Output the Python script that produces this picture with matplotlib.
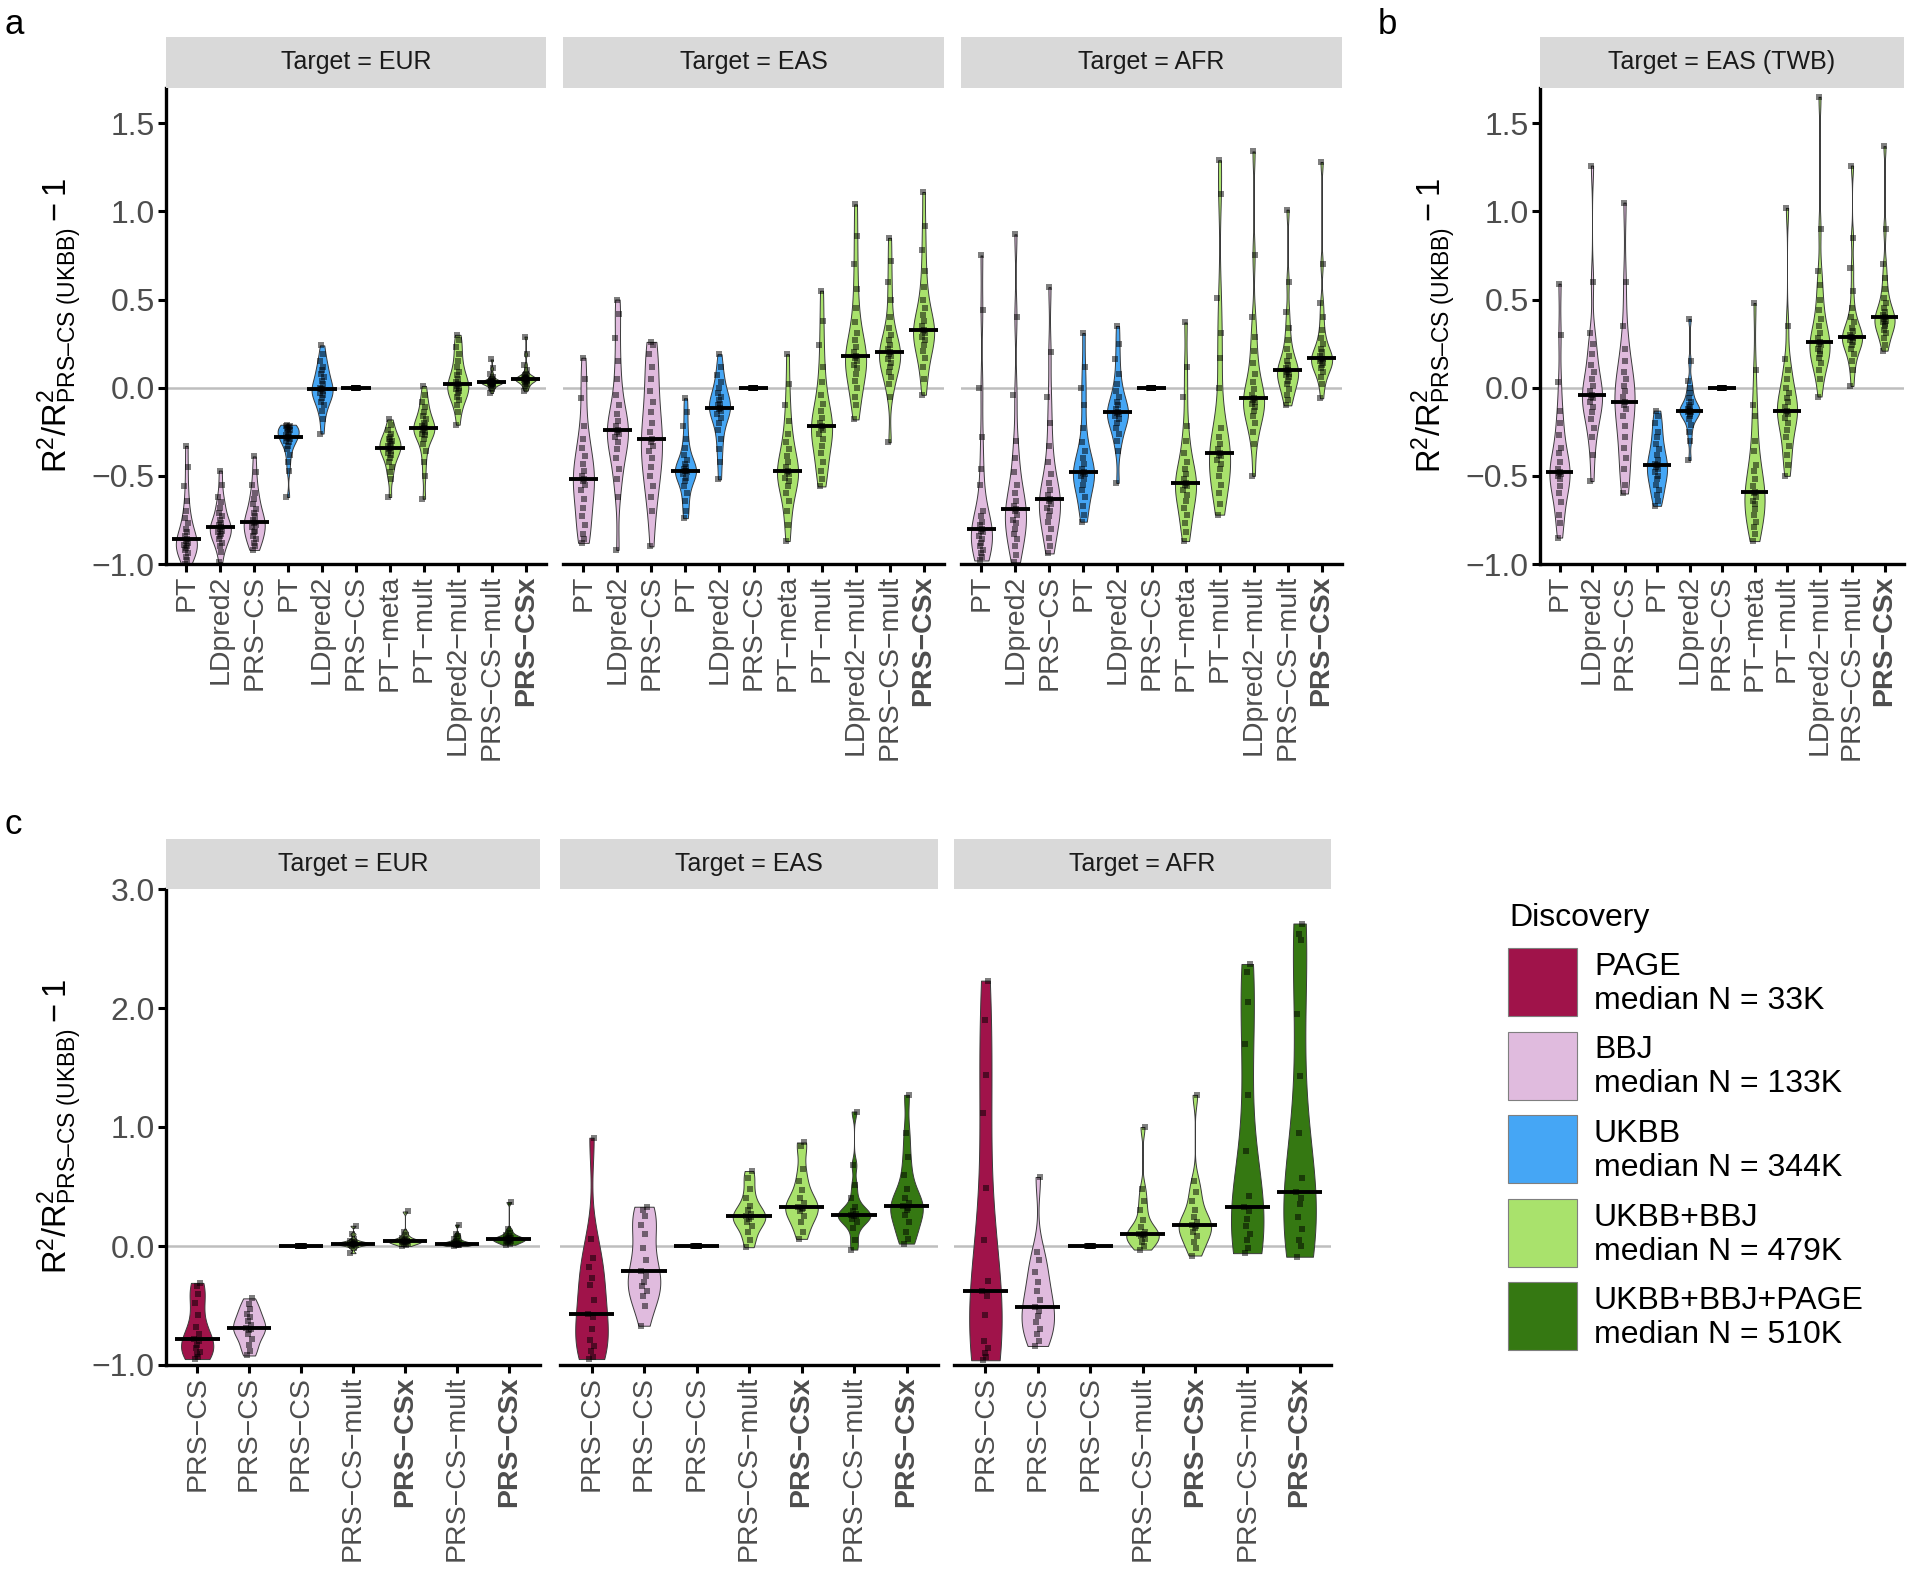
import numpy as np
import matplotlib
matplotlib.use("Agg")
import matplotlib.pyplot as plt
from matplotlib.patches import Rectangle
from matplotlib.ticker import FuncFormatter

plt.rcParams["font.family"] = ["Liberation Sans", "DejaVu Sans"]
plt.rcParams["mathtext.fontset"] = "custom"
plt.rcParams["mathtext.rm"] = "Liberation Sans"
plt.rcParams["mathtext.it"] = "Liberation Sans:italic"
plt.rcParams["mathtext.bf"] = "Liberation Sans:bold"

# ---- data (one list per violin) ----
methods_ab = ["PT", "LDpred2", "PRS\u2212CS", "PT", "LDpred2", "PRS\u2212CS",
              "PT\u2212meta", "PT\u2212mult", "LDpred2\u2212mult", "PRS\u2212CS\u2212mult", "PRS\u2212CSx"]
discovery_ab = ["BBJ", "BBJ", "BBJ", "UKBB", "UKBB", "UKBB",
                "UKBB+BBJ", "UKBB+BBJ", "UKBB+BBJ", "UKBB+BBJ", "UKBB+BBJ"]

methods_c = ["PRS\u2212CS", "PRS\u2212CS", "PRS\u2212CS", "PRS\u2212CS\u2212mult", "PRS\u2212CSx",
             "PRS\u2212CS\u2212mult", "PRS\u2212CSx"]
discovery_c = ["PAGE", "BBJ", "UKBB", "UKBB+BBJ", "UKBB+BBJ", "UKBB+BBJ+PAGE", "UKBB+BBJ+PAGE"]

ref_zero_21 = [0.0, 0.0, 0.0, 0.0, 0.0, 0.0, 0.0, 0.0, 0.0, 0.0, 0.0,
               0.0, 0.0, 0.0, 0.0, 0.0, 0.0, 0.0, 0.0, 0.0, 0.0]
ref_zero_15 = [0.0, 0.0, 0.0, 0.0, 0.0, 0.0, 0.0, 0.0, 0.0, 0.0, 0.0, 0.0, 0.0, 0.0, 0.0]

a_eur = [
    [-1.00, -0.98, -0.96, -0.94, -0.92, -0.91, -0.90, -0.89, -0.88, -0.87, -0.86, -0.84, -0.82, -0.80, -0.77, -0.74, -0.70, -0.64, -0.56, -0.45, -0.33],
    [-0.99, -0.93, -0.90, -0.88, -0.86, -0.84, -0.83, -0.82, -0.81, -0.80, -0.79, -0.78, -0.77, -0.75, -0.73, -0.71, -0.68, -0.65, -0.62, -0.55, -0.47],
    [-0.92, -0.90, -0.88, -0.86, -0.84, -0.82, -0.81, -0.79, -0.78, -0.77, -0.76, -0.75, -0.73, -0.71, -0.69, -0.66, -0.63, -0.60, -0.55, -0.48, -0.39],
    [-0.62, -0.47, -0.42, -0.38, -0.35, -0.33, -0.31, -0.30, -0.29, -0.285, -0.28, -0.27, -0.26, -0.25, -0.24, -0.235, -0.23, -0.225, -0.22, -0.215, -0.21],
    [-0.26, -0.18, -0.13, -0.10, -0.08, -0.06, -0.04, -0.03, -0.02, -0.01, -0.01, 0.00, 0.02, 0.04, 0.06, 0.08, 0.10, 0.12, 0.15, 0.19, 0.24],
    ref_zero_21,
    [-0.62, -0.52, -0.48, -0.45, -0.42, -0.40, -0.38, -0.37, -0.36, -0.35, -0.34, -0.33, -0.32, -0.31, -0.30, -0.29, -0.28, -0.26, -0.24, -0.21, -0.18],
    [-0.63, -0.50, -0.42, -0.36, -0.32, -0.29, -0.27, -0.26, -0.25, -0.24, -0.23, -0.22, -0.21, -0.20, -0.18, -0.16, -0.14, -0.11, -0.08, -0.04, 0.01],
    [-0.21, -0.14, -0.10, -0.07, -0.05, -0.03, -0.02, -0.01, 0.00, 0.01, 0.02, 0.03, 0.05, 0.07, 0.09, 0.12, 0.15, 0.19, 0.23, 0.27, 0.30],
    [-0.03, -0.01, 0.00, 0.01, 0.015, 0.02, 0.022, 0.025, 0.027, 0.029, 0.03, 0.032, 0.035, 0.038, 0.04, 0.045, 0.05, 0.06, 0.08, 0.11, 0.16],
    [-0.02, 0.00, 0.01, 0.02, 0.03, 0.035, 0.04, 0.042, 0.045, 0.048, 0.05, 0.053, 0.056, 0.06, 0.065, 0.07, 0.08, 0.10, 0.13, 0.19, 0.29],
]

a_eas = [
    [-0.88, -0.86, -0.83, -0.78, -0.73, -0.68, -0.63, -0.58, -0.55, -0.53, -0.52, -0.50, -0.47, -0.43, -0.39, -0.34, -0.29, -0.22, -0.06, 0.05, 0.17],
    [-0.92, -0.62, -0.52, -0.46, -0.40, -0.35, -0.31, -0.28, -0.26, -0.25, -0.24, -0.22, -0.19, -0.15, -0.10, -0.04, 0.05, 0.15, 0.28, 0.42, 0.50],
    [-0.90, -0.70, -0.62, -0.56, -0.50, -0.45, -0.40, -0.36, -0.33, -0.31, -0.29, -0.25, -0.20, -0.14, -0.08, -0.02, 0.05, 0.12, 0.19, 0.24, 0.26],
    [-0.74, -0.70, -0.64, -0.60, -0.56, -0.53, -0.51, -0.49, -0.48, -0.475, -0.47, -0.46, -0.45, -0.43, -0.41, -0.38, -0.34, -0.29, -0.22, -0.14, -0.06],
    [-0.52, -0.42, -0.35, -0.29, -0.24, -0.20, -0.17, -0.15, -0.13, -0.12, -0.115, -0.10, -0.09, -0.07, -0.05, -0.03, 0.00, 0.03, 0.07, 0.12, 0.19],
    ref_zero_21,
    [-0.87, -0.78, -0.70, -0.64, -0.60, -0.56, -0.53, -0.51, -0.49, -0.48, -0.47, -0.45, -0.42, -0.39, -0.35, -0.31, -0.26, -0.19, -0.10, 0.02, 0.19],
    [-0.56, -0.52, -0.47, -0.42, -0.37, -0.33, -0.29, -0.26, -0.24, -0.23, -0.22, -0.20, -0.17, -0.13, -0.09, -0.04, 0.03, 0.12, 0.24, 0.38, 0.55],
    [-0.18, -0.10, -0.05, 0.00, 0.04, 0.08, 0.11, 0.13, 0.15, 0.17, 0.18, 0.20, 0.23, 0.27, 0.31, 0.37, 0.45, 0.56, 0.70, 0.86, 1.04],
    [-0.31, -0.05, 0.02, 0.06, 0.09, 0.12, 0.14, 0.16, 0.18, 0.19, 0.20, 0.22, 0.24, 0.27, 0.30, 0.34, 0.40, 0.50, 0.60, 0.72, 0.85],
    [-0.04, 0.05, 0.12, 0.17, 0.21, 0.24, 0.27, 0.29, 0.31, 0.32, 0.33, 0.35, 0.38, 0.41, 0.45, 0.50, 0.57, 0.66, 0.78, 0.92, 1.11],
]

a_afr = [
    [-0.98, -0.96, -0.94, -0.92, -0.90, -0.88, -0.86, -0.84, -0.82, -0.81, -0.80, -0.78, -0.76, -0.73, -0.70, -0.55, -0.46, -0.28, 0.00, 0.44, 0.75],
    [-0.99, -0.95, -0.90, -0.86, -0.83, -0.80, -0.77, -0.75, -0.72, -0.70, -0.69, -0.67, -0.64, -0.60, -0.55, -0.48, -0.40, -0.30, -0.04, 0.40, 0.87],
    [-0.94, -0.90, -0.85, -0.80, -0.76, -0.73, -0.70, -0.68, -0.66, -0.64, -0.63, -0.61, -0.58, -0.54, -0.49, -0.42, -0.33, -0.20, -0.05, 0.20, 0.57],
    [-0.76, -0.72, -0.67, -0.62, -0.58, -0.55, -0.52, -0.50, -0.49, -0.485, -0.48, -0.46, -0.43, -0.40, -0.36, -0.31, -0.23, -0.10, 0.00, 0.12, 0.31],
    [-0.54, -0.36, -0.30, -0.26, -0.23, -0.20, -0.18, -0.16, -0.15, -0.145, -0.14, -0.12, -0.10, -0.08, -0.05, -0.02, 0.02, 0.08, 0.16, 0.25, 0.35],
    ref_zero_21,
    [-0.87, -0.82, -0.77, -0.72, -0.68, -0.64, -0.61, -0.58, -0.56, -0.55, -0.54, -0.52, -0.49, -0.46, -0.42, -0.37, -0.30, -0.22, -0.05, 0.12, 0.37],
    [-0.72, -0.66, -0.60, -0.55, -0.50, -0.46, -0.43, -0.41, -0.39, -0.38, -0.37, -0.35, -0.32, -0.28, -0.23, 0.00, 0.17, 0.31, 0.51, 1.10, 1.29],
    [-0.50, -0.32, -0.25, -0.20, -0.16, -0.13, -0.11, -0.09, -0.08, -0.07, -0.06, -0.04, -0.01, 0.03, 0.08, 0.14, 0.21, 0.29, 0.40, 0.75, 1.34],
    [-0.10, -0.07, -0.04, -0.01, 0.02, 0.04, 0.06, 0.07, 0.08, 0.09, 0.10, 0.11, 0.13, 0.15, 0.18, 0.22, 0.27, 0.34, 0.43, 0.60, 1.01],
    [-0.06, 0.02, 0.06, 0.09, 0.11, 0.13, 0.14, 0.15, 0.16, 0.165, 0.17, 0.18, 0.20, 0.22, 0.25, 0.28, 0.33, 0.40, 0.48, 0.70, 1.28],
]

b_twb = [
    [-0.85, -0.77, -0.72, -0.65, -0.60, -0.56, -0.52, -0.50, -0.49, -0.485, -0.48, -0.46, -0.42, -0.37, -0.34, -0.27, -0.20, -0.13, 0.03, 0.30, 0.59],
    [-0.53, -0.38, -0.28, -0.23, -0.18, -0.14, -0.11, -0.08, -0.06, -0.05, -0.04, -0.02, 0.01, 0.05, 0.09, 0.13, 0.19, 0.25, 0.31, 0.60, 1.26],
    [-0.60, -0.55, -0.46, -0.40, -0.34, -0.28, -0.22, -0.16, -0.12, -0.10, -0.08, -0.05, -0.02, 0.01, 0.05, 0.09, 0.15, 0.22, 0.35, 0.60, 1.05],
    [-0.67, -0.64, -0.61, -0.58, -0.55, -0.52, -0.50, -0.48, -0.46, -0.45, -0.44, -0.43, -0.41, -0.38, -0.35, -0.32, -0.28, -0.25, -0.20, -0.16, -0.13],
    [-0.41, -0.30, -0.25, -0.21, -0.18, -0.16, -0.15, -0.14, -0.135, -0.13, -0.13, -0.12, -0.11, -0.10, -0.08, -0.06, -0.03, 0.00, 0.04, 0.15, 0.39],
    ref_zero_21,
    [-0.87, -0.83, -0.79, -0.76, -0.72, -0.69, -0.66, -0.64, -0.62, -0.60, -0.59, -0.56, -0.52, -0.47, -0.44, -0.36, -0.30, -0.16, -0.10, 0.10, 0.48],
    [-0.50, -0.44, -0.38, -0.33, -0.28, -0.24, -0.20, -0.17, -0.15, -0.14, -0.13, -0.11, -0.08, -0.06, -0.03, 0.00, 0.05, 0.10, 0.16, 0.35, 1.02],
    [-0.05, 0.05, 0.10, 0.14, 0.17, 0.19, 0.21, 0.22, 0.24, 0.25, 0.26, 0.28, 0.31, 0.35, 0.39, 0.44, 0.50, 0.58, 0.66, 0.90, 1.65],
    [0.01, 0.10, 0.15, 0.19, 0.22, 0.24, 0.26, 0.27, 0.28, 0.285, 0.29, 0.30, 0.32, 0.34, 0.37, 0.40, 0.45, 0.55, 0.68, 0.85, 1.26],
    [0.21, 0.24, 0.28, 0.31, 0.33, 0.35, 0.36, 0.37, 0.38, 0.39, 0.40, 0.41, 0.43, 0.45, 0.48, 0.51, 0.56, 0.62, 0.70, 0.90, 1.37],
]

c_eur = [
    [-0.95, -0.93, -0.91, -0.89, -0.86, -0.83, -0.80, -0.78, -0.74, -0.68, -0.58, -0.48, -0.40, -0.34, -0.31],
    [-0.92, -0.88, -0.83, -0.78, -0.74, -0.71, -0.70, -0.69, -0.66, -0.63, -0.60, -0.57, -0.53, -0.49, -0.44],
    ref_zero_15,
    [-0.06, -0.02, 0.00, 0.01, 0.01, 0.015, 0.02, 0.02, 0.025, 0.03, 0.035, 0.04, 0.06, 0.10, 0.17],
    [0.00, 0.01, 0.02, 0.025, 0.03, 0.035, 0.04, 0.04, 0.045, 0.05, 0.06, 0.07, 0.09, 0.12, 0.29],
    [0.00, 0.005, 0.01, 0.01, 0.015, 0.02, 0.02, 0.02, 0.025, 0.03, 0.04, 0.06, 0.08, 0.10, 0.18],
    [0.01, 0.02, 0.03, 0.04, 0.045, 0.05, 0.055, 0.06, 0.065, 0.07, 0.08, 0.09, 0.11, 0.14, 0.37],
]

c_eas = [
    [-0.95, -0.93, -0.88, -0.84, -0.79, -0.70, -0.60, -0.57, -0.45, -0.33, -0.27, -0.18, -0.10, 0.06, 0.91],
    [-0.67, -0.50, -0.42, -0.38, -0.34, -0.30, -0.25, -0.21, -0.12, -0.02, 0.10, 0.18, 0.25, 0.30, 0.33],
    ref_zero_15,
    [-0.01, 0.05, 0.12, 0.17, 0.20, 0.23, 0.24, 0.25, 0.27, 0.30, 0.34, 0.40, 0.48, 0.57, 0.63],
    [0.06, 0.12, 0.20, 0.25, 0.29, 0.31, 0.32, 0.33, 0.36, 0.40, 0.47, 0.55, 0.65, 0.84, 0.87],
    [-0.03, 0.05, 0.15, 0.20, 0.23, 0.25, 0.255, 0.26, 0.27, 0.29, 0.33, 0.40, 0.51, 0.68, 1.13],
    [0.02, 0.06, 0.12, 0.20, 0.26, 0.30, 0.32, 0.34, 0.36, 0.40, 0.48, 0.60, 0.75, 0.95, 1.27],
]

c_afr = [
    [-0.96, -0.93, -0.90, -0.86, -0.80, -0.58, -0.42, -0.38, -0.29, 0.05, 0.49, 1.12, 1.44, 1.90, 2.23],
    [-0.84, -0.80, -0.74, -0.70, -0.64, -0.59, -0.55, -0.51, -0.45, -0.38, -0.30, -0.22, -0.12, -0.05, 0.58],
    ref_zero_15,
    [-0.03, 0.00, 0.03, 0.06, 0.08, 0.09, 0.10, 0.10, 0.12, 0.16, 0.22, 0.30, 0.38, 0.48, 1.00],
    [-0.08, -0.02, 0.03, 0.08, 0.12, 0.15, 0.17, 0.18, 0.20, 0.24, 0.30, 0.38, 0.45, 0.55, 1.27],
    [-0.06, -0.02, 0.05, 0.10, 0.17, 0.23, 0.29, 0.33, 0.42, 0.80, 1.27, 1.70, 2.05, 2.30, 2.37],
    [-0.09, 0.00, 0.05, 0.14, 0.24, 0.35, 0.40, 0.45, 0.57, 0.95, 1.43, 1.95, 2.57, 2.62, 2.71],
]

legend_groups = ["PAGE", "BBJ", "UKBB", "UKBB+BBJ", "UKBB+BBJ+PAGE"]
legend_median_n = ["33K", "133K", "344K", "479K", "510K"]

# ---- styling ----
COLORS = {"PAGE": "#A0134A", "BBJ": "#E0BBDE", "UKBB": "#45A6F5",
          "UKBB+BBJ": "#A9E26C", "UKBB+BBJ+PAGE": "#357812"}
TEXT_GREY = "#4D4D4D"
VIOLIN_W = 0.62
MEDIAN_W = 0.86
JITTER = np.array([-0.05, 0.02, -0.01, 0.05, -0.03, 0.0, 0.03, -0.06, 0.04, -0.02, 0.01])
YLABEL = "$\\mathregular{R^2/R^2_{PRS\u2013CS\\ (UKBB)}-1}$"

W, H = 1920, 1571
fig = plt.figure(figsize=(W / 100, H / 100), dpi=100)


def box(x0, y0, x1, y1):
    return [x0 / W, 1 - y1 / H, (x1 - x0) / W, (y1 - y0) / H]


def nrd0(v):
    sd = v.std(ddof=1)
    iqr = np.subtract(*np.percentile(v, [75, 25]))
    lo = min(sd, iqr / 1.34) if iqr > 0 else sd
    return 0.9 * lo * len(v) ** -0.2


def fmt(v, _):
    return f"{v:.1f}".replace("-", "\u2212")


def draw_panel(rect, strip_rect, title, groups, discs, labels, ylim, yticks, first):
    ax = fig.add_axes(box(*rect))
    ax.axhline(0, color="#BEBEBE", lw=1.8, zorder=1)
    for i, (vals, d) in enumerate(zip(groups, discs)):
        x = i + 1
        v = np.asarray(vals, dtype=float)
        if v.max() > v.min():
            grid = np.linspace(v.min(), v.max(), 512)
            bw = nrd0(v)
            dens = np.exp(-0.5 * ((grid[:, None] - v[None, :]) / bw) ** 2).sum(1)
            half = dens / dens.max() * VIOLIN_W / 2
            ax.fill_betweenx(grid, x - half, x + half, facecolor=COLORS[d],
                             edgecolor="#3A3A3A", lw=0.7, zorder=2)
        offs = JITTER[np.arange(len(v)) % len(JITTER)]
        ax.scatter(x + offs, v, marker="s", s=13, color="black", alpha=0.5,
                   linewidths=0, zorder=3)
        ax.hlines(np.median(v), x - MEDIAN_W / 2, x + MEDIAN_W / 2,
                  color="black", lw=2.8, zorder=4)
    n = len(groups)
    ax.set_xlim(0.4, n + 0.6)
    ax.set_ylim(*ylim)
    ax.set_xticks(np.arange(1, n + 1))
    ax.set_xticklabels(labels, rotation=90, fontsize=20.5, color=TEXT_GREY)
    for t in ax.get_xticklabels():
        if t.get_text().endswith("CSx"):
            t.set_fontweight("bold")
            t.set_color("#333333")
    ax.set_yticks(yticks)
    ax.yaxis.set_major_formatter(FuncFormatter(fmt))
    for s in ["top", "right"]:
        ax.spines[s].set_visible(False)
    ax.spines["bottom"].set_linewidth(2.4)
    ax.spines["left"].set_linewidth(2.4)
    ax.tick_params(axis="both", length=6, width=2.2, pad=2, labelcolor=TEXT_GREY)
    ax.tick_params(axis="y", labelsize=23)
    if first:
        ax.set_ylabel(YLABEL, fontsize=23.5, labelpad=6)
    else:
        ax.spines["left"].set_visible(False)
        ax.tick_params(axis="y", left=False, labelleft=False)

    sx = fig.add_axes(box(*strip_rect))
    sx.set_facecolor("#D9D9D9")
    sx.set_xticks([])
    sx.set_yticks([])
    for s in sx.spines.values():
        s.set_visible(False)
    sx.text(0.5, 0.5, title, ha="center", va="center", fontsize=18,
            color="#1A1A1A", transform=sx.transAxes)
    return ax


# panel a
ylim_ab = (-1.0, 1.70)
yt_ab = [-1.0, -0.5, 0.0, 0.5, 1.0, 1.5]
a_cols = [(166, 546), (563, 944), (961, 1342)]
for (x0, x1), title, data, first in zip(a_cols, ["Target = EUR", "Target = EAS", "Target = AFR"],
                                        [a_eur, a_eas, a_afr], [True, False, False]):
    draw_panel((x0, 88, x1, 564), (x0, 37, x1, 88), title, data, discovery_ab,
               methods_ab, ylim_ab, yt_ab, first)

# panel b
draw_panel((1540, 88, 1904, 564), (1540, 37, 1904, 88), "Target = EAS (TWB)", b_twb,
           discovery_ab, methods_ab, ylim_ab, yt_ab, True)

# panel c
c_cols = [(166, 540), (560, 938), (954, 1331)]
for (x0, x1), title, data, first in zip(c_cols, ["Target = EUR", "Target = EAS", "Target = AFR"],
                                        [c_eur, c_eas, c_afr], [True, False, False]):
    draw_panel((x0, 889, x1, 1365), (x0, 839, x1, 889), title, data, discovery_c,
               methods_c, (-1.0, 3.0), [-1.0, 0.0, 1.0, 2.0, 3.0], first)

# panel letters
fig.text(5 / W, 1 - 8 / H, "a", fontsize=25, va="top", ha="left")
fig.text(1378 / W, 1 - 8 / H, "b", fontsize=25, va="top", ha="left")
fig.text(5 / W, 1 - 808 / H, "c", fontsize=25, va="top", ha="left")

# legend (drawn in figure pixel positions)
fig.text(1509 / W, 1 - 918 / H, "Discovery", fontsize=23, va="center", ha="left")
for k, (g, n) in enumerate(zip(legend_groups, legend_median_n)):
    top = 948 + k * 83.5
    fig.patches.append(Rectangle((1508 / W, 1 - (top + 68) / H), 69 / W, 68 / H,
                                 transform=fig.transFigure, facecolor=COLORS[g],
                                 edgecolor="#7F7F7F", lw=0.8))
    fig.text(1594 / W, 1 - (top + 19) / H, g, fontsize=23, va="center", ha="left")
    fig.text(1594 / W, 1 - (top + 53) / H, f"median N = {n}", fontsize=23,
             va="center", ha="left")

fig.savefig("out.png", dpi=100)
